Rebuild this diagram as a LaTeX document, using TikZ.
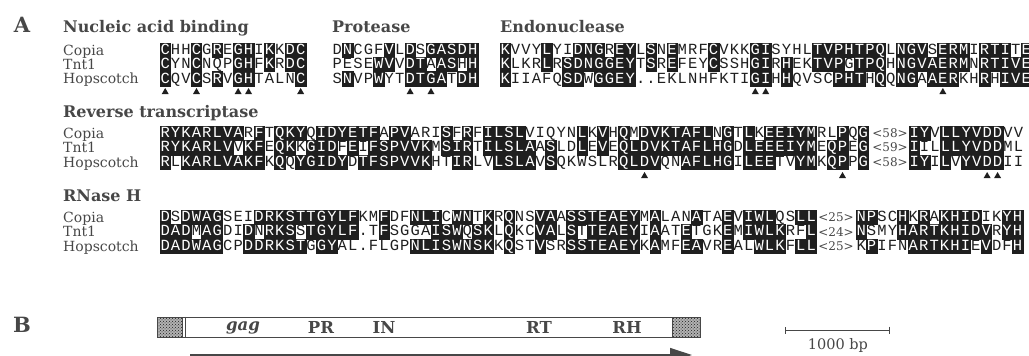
\documentclass[tikz,border=0pt]{standalone}
\usepackage{fontspec}
\setmainfont{DejaVu Serif}
\newfontfamily\resfamily{Liberation Mono}
\usetikzlibrary{arrows.meta,positioning,shapes.geometric,patterns}

\definecolor{ink}{gray}{0.12}
\definecolor{printgray}{gray}{0.28}

% cell size of one residue
\newcommand\cw{10.42}
\newcommand\ch{14.4}

% one aligned row: name, left x, centre y, residues (lower case = shaded)
\newcount\rescol
\newcommand\seqrun[4]{%
  \rescol=0
  \def\seqid{#1}\def\seqx{#2}\def\seqy{#3}%
  \seqnext#4\relax}
\def\seqnext#1{%
  \ifx#1\relax\else
    \advance\rescol by 1
    \seqcell#1%
    \expandafter\seqnext
  \fi}
\def\seqcell#1{%
  \edef\seqnm{\seqid-\the\rescol}%
  \pgfmathsetmacro\seqcx{\seqx+(\the\rescol-0.5)*\cw}%
  \ifnum`#1>`Z\relax
    \node[resdark] (\seqnm) at (\seqcx,\seqy) {\uppercase{#1}};%
  \else
    \node[res] (\seqnm) at (\seqcx,\seqy) {#1};%
  \fi}

\begin{document}
\begin{tikzpicture}[x=1pt,y=-1pt]
\tikzset{
  res/.style={minimum width=\cw pt,minimum height=\ch pt,inner sep=0pt,outer sep=0pt,
    text height=8.5pt,text depth=0pt,text=ink,font=\resfamily\fontsize{15.5}{16}\selectfont},
  resdark/.style={res,fill=ink,draw=ink,line width=0.4pt,text=white},
  seqname/.style={anchor=west,inner sep=0pt,text height=10pt,text depth=0pt,text=printgray,
    font=\fontsize{14}{14}\selectfont},
  blockhead/.style={anchor=west,inner sep=0pt,text height=11.5pt,text depth=0pt,text=printgray,
    font=\bfseries\fontsize{16}{17}\selectfont},
  panel/.style={inner sep=0pt,text=printgray,font=\bfseries\fontsize{21}{21}\selectfont},
  gaplen/.style={inner sep=0pt,text=printgray,font=\fontsize{12}{12}\selectfont},
  motif/.style={regular polygon,regular polygon sides=3,fill=ink,minimum size=8pt,inner sep=0pt},
  orfbox/.style={draw=printgray,line width=1.3pt,minimum width=542pt,minimum height=20pt,inner sep=0pt},
  ltrbox/.style={draw=printgray,line width=1pt,preaction={fill=gray!60},pattern=crosshatch dots,
    pattern color=ink,minimum height=20pt,inner sep=0pt},
  domlabel/.style={inner sep=0pt,text=printgray,font=\bfseries\fontsize{16.5}{17}\selectfont},
  orfline/.style={draw=printgray,line width=1.2pt},
  scaleline/.style={draw=printgray,line width=0.9pt,{Bar[width=7pt]}-{Bar[width=7pt]}}
}
\useasboundingbox (0,0) rectangle (1029,356);

% ---------- A ----------
\node[panel] (labA) at (22,25) {A};

\node[blockhead] (hNab) at (63,27) {Nucleic acid binding};
\node[blockhead] (hPr) at (332,27) {Protease};
\node[blockhead] (hEn) at (500,27) {Endonuclease};
\node[seqname] (n1a) at (63,50) {Copia};
\node[seqname] (n1b) at (63,64.4) {Tnt1};
\node[seqname] (n1c) at (63,78.8) {Hopscotch};

\seqrun{nab1}{160}{50}{cHHcGrEghIkKdc}
\seqrun{nab2}{160}{64.4}{cYNcNQPghFkRdc}
\seqrun{nab3}{160}{78.8}{cQVcSrVghTALNc}
\seqrun{pr1}{332}{50}{DnCGFvLdSgasdh}
\seqrun{pr2}{332}{64.4}{PESEwvVdtAasHh}
\seqrun{pr3}{332}{78.8}{SnVPwYTdtgaTdh}
\seqrun{en1}{500}{50}{kVVYlYIdng ReyLsNeMRF cVKKgiSYHL tvphtpqLng vSermIrtiTe}
\seqrun{en2}{500}{64.4}{kLKRlRsdng geyTsReFEY cSSHgiRhEK tvpGtpqHng vaermNrtive}
\seqrun{en3}{500}{78.8}{kIIAFQsdWg gey..EKLNH FKTIgiHhQV SCphtHqQng AaerKHrHive}

\foreach \k in {1,4,8,9,14} \node[motif] (mNab\k) at ({160+(\k-0.5)*\cw},92) {};
\foreach \k in {8,10} \node[motif] (mPr\k) at ({332+(\k-0.5)*\cw},92) {};
\foreach \k in {25,26,43} \node[motif] (mEn\k) at ({500+(\k-0.5)*\cw},92) {};

\node[blockhead] (hRt) at (63,112) {Reverse transcriptase};
\node[seqname] (n2a) at (63,133.2) {Copia};
\node[seqname] (n2b) at (63,147.6) {Tnt1};
\node[seqname] (n2c) at (63,162) {Hopscotch};

\seqrun{rt1}{160}{133.2}{rykarlvaRf TqkyQidyet fApvARIsFr FilslVIQYN lKvHqMdvkt aflNgTlKee iymRLpQg}
\seqrun{rt2}{160}{147.6}{rykarlvVkf EqkKgidFeI fspvvkMsir TilslaAsLD lEvEqldvkt aflhgDleee iymEqpEg}
\seqrun{rt3}{160}{162}{rLkarlvakf KqQygidyDt fspvvkHTir LVlslaVsQK WSLRqldvQN aflhgIleeT VymKqpPg}
\node[gaplen] (gRt1) at (890,133.2) {<58>};
\node[gaplen] (gRt2) at (890,147.6) {<59>};
\node[gaplen] (gRt3) at (890,162) {<58>};
\seqrun{rtb1}{909}{133.2}{iyVllyvddVV}
\seqrun{rtb2}{909}{147.6}{iILllyvddML}
\seqrun{rtb3}{909}{162}{iyIlVyvddII}

\foreach \k in {47,66} \node[motif] (mRt\k) at ({160+(\k-0.5)*\cw},176) {};
\foreach \k in {8,9} \node[motif] (mRtb\k) at ({909+(\k-0.5)*\cw},176) {};

\node[blockhead] (hRh) at (63,196) {RNase H};
\node[seqname] (n3a) at (63,217.2) {Copia};
\node[seqname] (n3b) at (63,231.6) {Tnt1};
\node[seqname] (n3c) at (63,246) {Hopscotch};

\seqrun{rh1}{160}{217.2}{dSdwagSEId rksttgylfK MfDFnliCwn TkRqNSvaAs steaeyMaLA NaTAeViwlQ Sll}
\seqrun{rh2}{160}{231.6}{dadMagDIdN rksStgylf. TfSGGAiswQ skLqKCvaLs TteaeyIaAT eTGKeMiwlk RFl}
\seqrun{rh3}{160}{246}{dadwagCPdd rkstGgyAL. FLGPnliswn skKqSTvSRs steaeyKaMF eaVReALwlk Fll}
\node[gaplen] (gRh1) at (836,217.2) {<25>};
\node[gaplen] (gRh2) at (836,231.6) {<24>};
\node[gaplen] (gRh3) at (836,246) {<25>};
\seqrun{rhb1}{856}{217.2}{npSChKrAkhidIKyh}
\seqrun{rhb2}{856}{231.6}{nSMYhartkhidvRyh}
\seqrun{rhb3}{856}{246}{KpIFNartkhiEvDFh}

% ---------- B ----------
\node[panel] (labB) at (22,325) {B};

\node[orfbox] (orf) at (429,327.5) {};
\node[ltrbox,anchor=west,minimum width=25pt] (ltrL) at (orf.west) {};
\node[ltrbox,anchor=east,minimum width=28pt] (ltrR) at (orf.east) {};
\draw[orfline] ([xshift=28pt]orf.north west) -- ([xshift=28pt]orf.south west);

\node[domlabel] (dGag) at (243,327.5) {\itshape gag};
\node[domlabel] (dPr) at (321,327.5) {PR};
\node[domlabel] (dIn) at (384,327.5) {IN};
\node[domlabel] (dRt) at (539,327.5) {RT};
\node[domlabel] (dRh) at (627,327.5) {RH};

\coordinate (tr0) at (190,355);
\coordinate (tr1) at (692,355);
\draw[orfline,-{Triangle[length=22pt,width=14pt]}] (tr0) -- (tr1);

\coordinate (kb0) at (785,330);
\coordinate (kb1) at (890,330);
\draw[scaleline] (kb0) -- (kb1);
\node[seqname,anchor=center,font=\fontsize{14.5}{15}\selectfont] (kbText) at (838,344) {1000 bp};
\end{tikzpicture}
\end{document}
